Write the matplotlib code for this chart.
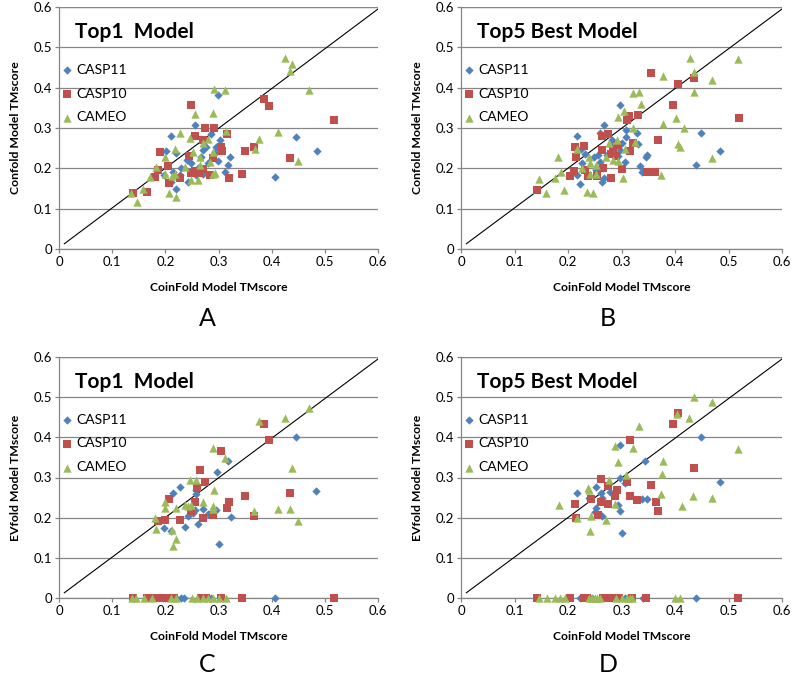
import matplotlib
matplotlib.use("Agg")
import matplotlib.pyplot as plt
from matplotlib.ticker import FormatStrFormatter

plt.rcParams['font.family'] = ['Lato', 'DejaVu Sans']

# ---- data ----
SERIES = ["CASP11", "CASP10", "CAMEO"]
COLORS = ["#4F81BD", "#C0504D", "#9BBB59"]
MARKERS = ["D", "s", "^"]
SIZES = [18, 30, 36]

# panel A: Confold vs CoinFold, top1
A_CASP11_X = [0.299, 0.255, 0.210, 0.445, 0.485, 0.406, 0.302, 0.285, 0.322, 0.318, 0.312, 0.299, 0.296,
              0.202, 0.221, 0.197, 0.215, 0.221, 0.210, 0.243, 0.230, 0.240, 0.262, 0.271, 0.280, 0.268,
              0.277, 0.249, 0.257, 0.227, 0.271, 0.293]
A_CASP11_Y = [0.382, 0.307, 0.281, 0.278, 0.244, 0.179, 0.270, 0.285, 0.227, 0.208, 0.190, 0.219, 0.254,
              0.244, 0.237, 0.183, 0.191, 0.150, 0.167, 0.167, 0.200, 0.220, 0.200, 0.187, 0.212, 0.229,
              0.254, 0.212, 0.183, 0.183, 0.245, 0.237]
A_CASP10_X = [0.248, 0.255, 0.274, 0.291, 0.271, 0.316, 0.304, 0.306, 0.386, 0.395, 0.518, 0.350, 0.367,
              0.434, 0.345, 0.320, 0.289, 0.284, 0.270, 0.263, 0.249, 0.244, 0.190, 0.205, 0.186, 0.180,
              0.227, 0.207, 0.165, 0.140, 0.255]
A_CASP10_Y = [0.356, 0.280, 0.299, 0.299, 0.270, 0.285, 0.254, 0.244, 0.373, 0.355, 0.321, 0.243, 0.254,
              0.225, 0.186, 0.175, 0.225, 0.183, 0.198, 0.189, 0.189, 0.230, 0.241, 0.205, 0.196, 0.179,
              0.175, 0.164, 0.142, 0.139, 0.193]
A_CAMEO_X = [0.425, 0.439, 0.434, 0.470, 0.292, 0.313, 0.290, 0.255, 0.315, 0.412, 0.376, 0.368, 0.450,
             0.246, 0.227, 0.280, 0.270, 0.290, 0.218, 0.200, 0.252, 0.265, 0.290, 0.293, 0.284, 0.183,
             0.171, 0.199, 0.218, 0.212, 0.237, 0.249, 0.262, 0.207, 0.221, 0.158, 0.146, 0.136, 0.265]
A_CAMEO_Y = [0.473, 0.458, 0.442, 0.394, 0.396, 0.393, 0.336, 0.335, 0.293, 0.290, 0.272, 0.248, 0.219,
             0.274, 0.288, 0.272, 0.262, 0.241, 0.247, 0.229, 0.241, 0.229, 0.186, 0.189, 0.216, 0.204,
             0.179, 0.187, 0.187, 0.181, 0.204, 0.171, 0.171, 0.139, 0.129, 0.150, 0.117, 0.138, 0.208]

# panel B: Confold vs CoinFold, best of top5
B_CASP11_X = [0.298, 0.267, 0.259, 0.216, 0.448, 0.485, 0.440, 0.309, 0.329, 0.331, 0.309, 0.301, 0.307,
              0.294, 0.282, 0.334, 0.347, 0.345, 0.339, 0.227, 0.224, 0.232, 0.217, 0.222, 0.253, 0.259,
              0.263, 0.267, 0.249, 0.256, 0.272, 0.297, 0.283, 0.266]
B_CASP11_Y = [0.357, 0.307, 0.288, 0.281, 0.288, 0.244, 0.209, 0.295, 0.288, 0.260, 0.278, 0.262, 0.215,
              0.230, 0.254, 0.206, 0.233, 0.227, 0.190, 0.212, 0.249, 0.235, 0.183, 0.162, 0.196, 0.216,
              0.167, 0.175, 0.229, 0.233, 0.233, 0.245, 0.270, 0.200]
B_CASP10_X = [0.356, 0.406, 0.435, 0.396, 0.519, 0.314, 0.330, 0.311, 0.369, 0.263, 0.274, 0.263, 0.285,
              0.293, 0.322, 0.316, 0.280, 0.289, 0.213, 0.230, 0.215, 0.232, 0.238, 0.204, 0.212, 0.255,
              0.265, 0.281, 0.300, 0.347, 0.363, 0.142]
B_CASP10_Y = [0.436, 0.408, 0.423, 0.357, 0.326, 0.330, 0.332, 0.320, 0.270, 0.280, 0.285, 0.245, 0.249,
              0.259, 0.262, 0.243, 0.235, 0.231, 0.254, 0.255, 0.227, 0.196, 0.181, 0.181, 0.193, 0.181,
              0.202, 0.177, 0.198, 0.191, 0.191, 0.146]
B_CAMEO_X = [0.428, 0.518, 0.436, 0.470, 0.377, 0.322, 0.333, 0.436, 0.336, 0.304, 0.294, 0.402, 0.377,
             0.416, 0.322, 0.406, 0.410, 0.470, 0.374, 0.302, 0.276, 0.291, 0.307, 0.325, 0.271, 0.285,
             0.294, 0.217, 0.239, 0.242, 0.253, 0.242, 0.253, 0.181, 0.186, 0.175, 0.145, 0.158, 0.192,
             0.236, 0.247, 0.227]
B_CAMEO_Y = [0.473, 0.471, 0.440, 0.419, 0.429, 0.386, 0.390, 0.389, 0.360, 0.343, 0.328, 0.325, 0.310,
             0.301, 0.301, 0.260, 0.252, 0.226, 0.184, 0.176, 0.262, 0.270, 0.249, 0.266, 0.229, 0.220,
             0.219, 0.247, 0.229, 0.214, 0.208, 0.187, 0.187, 0.227, 0.191, 0.175, 0.173, 0.139, 0.146,
             0.142, 0.139, 0.200]

# panel C: EVfold vs CoinFold, top1 (0 = no model)
C_CASP11_X = [0.446, 0.318, 0.298, 0.484, 0.227, 0.215, 0.257, 0.257, 0.255, 0.270, 0.252, 0.280, 0.296,
              0.323, 0.242, 0.237, 0.262, 0.198, 0.210, 0.300,
              0.196, 0.221, 0.230, 0.235, 0.265, 0.277, 0.285, 0.302, 0.406]
C_CASP11_Y = [0.402, 0.340, 0.313, 0.266, 0.276, 0.261, 0.268, 0.260, 0.220, 0.222, 0.212, 0.210, 0.220,
              0.202, 0.203, 0.178, 0.185, 0.174, 0.166, 0.135,
              0, 0, 0, 0, 0, 0, 0, 0, 0]
C_CASP10_X = [0.386, 0.395, 0.304, 0.266, 0.274, 0.259, 0.320, 0.316, 0.350, 0.367, 0.434, 0.255, 0.249,
              0.270, 0.290, 0.206, 0.227, 0.199, 0.186,
              0.140, 0.165, 0.180, 0.190, 0.204, 0.216, 0.268, 0.277, 0.304, 0.345, 0.518]
C_CASP10_Y = [0.434, 0.393, 0.365, 0.318, 0.289, 0.274, 0.238, 0.224, 0.253, 0.203, 0.261, 0.238, 0.216,
              0.199, 0.207, 0.246, 0.193, 0.193, 0.191,
              0, 0, 0, 0, 0, 0, 0, 0, 0, 0, 0]
C_CAMEO_X = [0.470, 0.426, 0.376, 0.290, 0.313, 0.439, 0.257, 0.246, 0.292, 0.271, 0.200, 0.367, 0.412,
             0.434, 0.450, 0.249, 0.237, 0.290, 0.290, 0.220, 0.199, 0.180, 0.183, 0.213, 0.221, 0.215,
             0.243,
             0.138, 0.145, 0.160, 0.175, 0.210, 0.220, 0.250, 0.260, 0.270, 0.280, 0.290, 0.300, 0.315]
C_CAMEO_Y = [0.473, 0.448, 0.441, 0.373, 0.349, 0.324, 0.295, 0.295, 0.270, 0.238, 0.238, 0.216, 0.222,
             0.222, 0.191, 0.232, 0.232, 0.228, 0.222, 0.224, 0.224, 0.199, 0.173, 0.170, 0.147, 0.130,
             0.228,
             0, 0, 0, 0, 0, 0, 0, 0, 0, 0, 0, 0, 0]

# panel D: EVfold vs CoinFold, best of top5
D_CASP11_X = [0.448, 0.298, 0.343, 0.297, 0.307, 0.485, 0.217, 0.253, 0.261, 0.264, 0.278, 0.240, 0.253,
              0.250, 0.263, 0.294, 0.298, 0.339, 0.347, 0.301,
              0.222, 0.245, 0.290, 0.306, 0.340, 0.440]
D_CASP11_Y = [0.402, 0.382, 0.340, 0.299, 0.286, 0.288, 0.261, 0.276, 0.261, 0.249, 0.263, 0.249, 0.224,
              0.213, 0.203, 0.232, 0.216, 0.246, 0.246, 0.163,
              0, 0, 0, 0, 0, 0]
D_CASP10_X = [0.406, 0.396, 0.316, 0.435, 0.261, 0.311, 0.356, 0.291, 0.274, 0.288, 0.316, 0.329, 0.364,
              0.368, 0.243, 0.261, 0.275, 0.213, 0.256, 0.215,
              0.142, 0.203, 0.230, 0.235, 0.265, 0.272, 0.280, 0.295, 0.320, 0.345, 0.518]
D_CASP10_Y = [0.461, 0.432, 0.394, 0.324, 0.296, 0.290, 0.282, 0.268, 0.278, 0.255, 0.253, 0.243, 0.238,
              0.216, 0.246, 0.238, 0.235, 0.234, 0.207, 0.199,
              0, 0, 0, 0, 0, 0, 0, 0, 0, 0, 0]
D_CAMEO_X = [0.435, 0.470, 0.403, 0.427, 0.333, 0.288, 0.322, 0.517, 0.294, 0.378, 0.376, 0.309, 0.277,
             0.238, 0.240, 0.434, 0.469, 0.373, 0.413, 0.184, 0.216, 0.243, 0.288, 0.271, 0.242,
             0.145, 0.160, 0.175, 0.185, 0.195, 0.240, 0.245, 0.250, 0.255, 0.260, 0.290, 0.300, 0.310,
             0.315, 0.320, 0.400, 0.410]
D_CAMEO_Y = [0.500, 0.487, 0.459, 0.448, 0.427, 0.378, 0.373, 0.371, 0.338, 0.340, 0.309, 0.307, 0.293,
             0.274, 0.268, 0.253, 0.249, 0.260, 0.228, 0.231, 0.199, 0.205, 0.235, 0.193, 0.166,
             0, 0, 0, 0, 0, 0, 0, 0, 0, 0, 0, 0, 0, 0, 0, 0, 0]

DIAG_X = [0.01, 0.6]
DIAG_Y = [0.013, 0.595]

panels = [
    ("A", "Top1  Model", "Confold Model TMscore",
     [(A_CASP11_X, A_CASP11_Y), (A_CASP10_X, A_CASP10_Y), (A_CAMEO_X, A_CAMEO_Y)]),
    ("B", "Top5 Best Model", "Confold Model TMscore",
     [(B_CASP11_X, B_CASP11_Y), (B_CASP10_X, B_CASP10_Y), (B_CAMEO_X, B_CAMEO_Y)]),
    ("C", "Top1  Model", "EVfold Model TMscore",
     [(C_CASP11_X, C_CASP11_Y), (C_CASP10_X, C_CASP10_Y), (C_CAMEO_X, C_CAMEO_Y)]),
    ("D", "Top5 Best Model", "EVfold Model TMscore",
     [(D_CASP11_X, D_CASP11_Y), (D_CASP10_X, D_CASP10_Y), (D_CAMEO_X, D_CAMEO_Y)]),
]

W, H = 796, 685
# axes boxes in pixels: left, top, right, bottom
boxes = [(59, 7, 378, 249), (461, 7, 782, 249), (59, 357, 378, 598), (461, 357, 782, 598)]
letter_pos = [(207, 318), (608, 318), (207, 665), (608, 665)]

fig = plt.figure(figsize=(W / 100, H / 100), dpi=100)

for (letter, title, ylab, data), (l, t, r, b), (lx, ly) in zip(panels, boxes, letter_pos):
    ax = fig.add_axes([l / W, 1 - b / H, (r - l) / W, (b - t) / H])
    ax.set_xlim(0, 0.6)
    ax.set_ylim(0, 0.6)
    ax.set_xticks([0, 0.1, 0.2, 0.3, 0.4, 0.5, 0.6])
    ax.set_yticks([0, 0.1, 0.2, 0.3, 0.4, 0.5, 0.6])
    ax.xaxis.set_major_formatter(FormatStrFormatter('%g'))
    ax.yaxis.set_major_formatter(FormatStrFormatter('%g'))
    for s in ["top", "right"]:
        ax.spines[s].set_visible(False)
    for s in ["left", "bottom"]:
        ax.spines[s].set_color("#868686")
        ax.spines[s].set_linewidth(0.9)
    ax.grid(axis="y", color="#868686", linewidth=0.9)
    ax.axhline(0.6, color="#868686", linewidth=0.9)
    ax.set_axisbelow(True)
    ax.tick_params(labelsize=9.5, colors="#868686", labelcolor="black", length=3, width=0.9, pad=2)

    ax.plot(DIAG_X, DIAG_Y, color="black", linewidth=0.8, zorder=3)

    for (xs, ys), name, c, m, sz in zip(data, SERIES, COLORS, MARKERS, SIZES):
        ax.scatter(xs, ys, s=sz, marker=m, color=c, linewidths=0, label=name,
                   clip_on=False, zorder=4)

    ax.text(0.03, 0.538, title, fontsize=15, fontweight="bold", va="center", ha="left")
    ax.legend(loc="upper left", bbox_to_anchor=(0.0, 0.765), frameon=False, fontsize=10,
              handletextpad=0.05, labelspacing=0.85, borderaxespad=0, borderpad=0,
              handlelength=1.2, markerscale=1.0)

    ax.set_xlabel("CoinFold Model TMscore", fontsize=8.7, fontweight="bold", labelpad=10)
    ax.set_ylabel(ylab, fontsize=8.8, fontweight="bold", labelpad=9)

    fig.text(lx / W, 1 - ly / H, letter, fontsize=18, ha="center", va="center")

fig.savefig("out.png", dpi=100)
